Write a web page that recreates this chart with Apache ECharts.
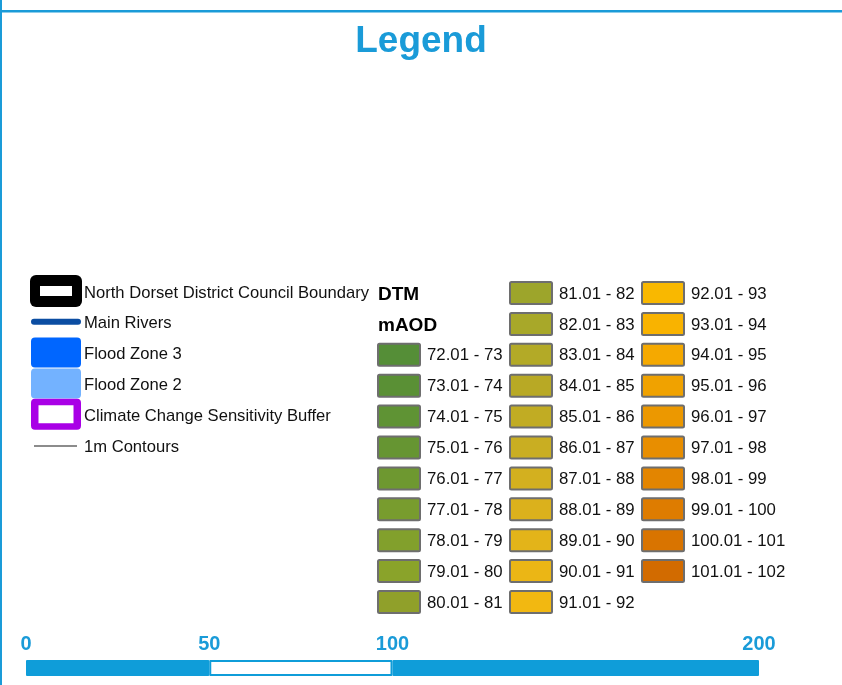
<!DOCTYPE html>
<html><head><meta charset="utf-8">
<script src="https://cdn.jsdelivr.net/npm/echarts@6/dist/echarts.min.js"></script>
<style>html,body{margin:0;padding:0;background:#fff}#c{width:842px;height:685px}</style>
</head><body><div id="c"></div>
<script>
// ---- data ----
const legendLabels = ['North Dorset District Council Boundary','Main Rivers','Flood Zone 3','Flood Zone 2','Climate Change Sensitivity Buffer','1m Contours'];
const legendSymbols = ['boundary','river','zone','zone','buffer','contour'];
const legendColors = ['#000000','#0b4da2','#0066ff','#73b2ff','#a900e6','#8c8c8c'];

const dtmHeaders = ['DTM','mAOD'];
const dtmLabels = ['72.01 - 73','73.01 - 74','74.01 - 75','75.01 - 76','76.01 - 77','77.01 - 78','78.01 - 79','79.01 - 80','80.01 - 81',
  '81.01 - 82','82.01 - 83','83.01 - 84','84.01 - 85','85.01 - 86','86.01 - 87','87.01 - 88','88.01 - 89','89.01 - 90','90.01 - 91','91.01 - 92',
  '92.01 - 93','93.01 - 94','94.01 - 95','95.01 - 96','96.01 - 97','97.01 - 98','98.01 - 99','99.01 - 100','100.01 - 101','101.01 - 102'];
const dtmColors = ['#558e37','#5a9035','#5f9334','#669532','#6e9830','#789c2e','#82a02c','#8aa32a','#90a02a',
  '#9da52b','#a8a829','#b3aa27','#b8a925','#c1ac23','#c9ae22','#d3b01f','#dbb11c','#e3b419','#ebb615','#f2b811',
  '#f9b800','#f9b300','#f5a900','#f0a200','#ec9800','#e88e00','#e38500','#de7c00','#d97400','#d26b00'];
const dtmColumnCounts = [9, 11, 10];
const dtmColumnFirstRow = [2, 0, 0];

const scaleTicks = [0, 50, 100, 200];
const scaleSegments = [[0, 50, 1], [50, 100, 0], [100, 200, 1]];

// ---- build ----
const FONT = '"Liberation Sans", Arial, sans-serif';
const BLUE = '#1a9bd8';
const dtmData = [];
let k = 0;
dtmColumnCounts.forEach((n, c) => { for (let j = 0; j < n; j++) { dtmData.push([c, dtmColumnFirstRow[c] + j, k++]); } });

const chart = echarts.init(document.getElementById('c'), null, {renderer: 'canvas'});
chart.setOption({
  animation: false,
  title: {text: 'Legend', left: 'center', top: 23, padding: 0,
    textStyle: {fontFamily: FONT, fontSize: 37, fontWeight: 'bold', color: BLUE}},
  graphic: [
    {type: 'rect', shape: {x: 0, y: 10, width: 842, height: 2.5}, style: {fill: BLUE}},
    {type: 'rect', shape: {x: 0, y: 0, width: 2, height: 685}, style: {fill: BLUE}}
  ],
  grid: [
    {left: 377, top: 293, width: 264, height: 309},
    {left: 56, top: 292, width: 28, height: 154},
    {left: 26, top: 660, width: 733, height: 16}
  ],
  xAxis: [
    {gridIndex: 0, type: 'value', min: 0, max: 2, show: false},
    {gridIndex: 1, type: 'value', min: 0, max: 1, show: false},
    {gridIndex: 2, type: 'value', min: 0, max: 200, interval: 50, position: 'top',
      axisLine: {show: false}, axisTick: {show: false}, splitLine: {show: false},
      axisLabel: {margin: 6, fontFamily: FONT, fontSize: 20, fontWeight: 'bold', color: BLUE,
        formatter: v => scaleTicks.indexOf(v) >= 0 ? String(v) : ''}}
  ],
  yAxis: [
    {gridIndex: 0, type: 'value', min: 0, max: 10, inverse: true, show: false},
    {gridIndex: 1, type: 'value', min: 0, max: 5, inverse: true, show: false},
    {gridIndex: 2, type: 'value', min: 0, max: 1, show: false}
  ],
  series: [
    {type: 'custom', xAxisIndex: 0, yAxisIndex: 0, silent: true,
      data: dtmHeaders.map((h, i) => [0, i, i]),
      renderItem(params, api) {
        const p = api.coord([api.value(0), api.value(1)]);
        return {type: 'text', style: {x: p[0] + 1, y: p[1] + 1.5, text: dtmHeaders[params.dataIndex],
          font: 'bold 19px ' + FONT, fill: '#000', verticalAlign: 'middle'}};
      }},
    {type: 'custom', xAxisIndex: 0, yAxisIndex: 0, silent: true,
      data: dtmData,
      renderItem(params, api) {
        const p = api.coord([api.value(0), api.value(1)]);
        const i = api.value(2);
        return {type: 'group', children: [
          {type: 'rect', shape: {x: p[0] + 1, y: p[1] - 11, width: 42, height: 22, r: 1.5},
            style: {fill: dtmColors[i], stroke: '#6e6e6e', lineWidth: 2}},
          {type: 'text', style: {x: p[0] + 50, y: p[1] + 1, text: dtmLabels[i],
            font: '16.8px ' + FONT, fill: '#111', verticalAlign: 'middle'}}
        ]};
      }},
    {type: 'custom', xAxisIndex: 1, yAxisIndex: 1, silent: true,
      data: legendLabels.map((l, i) => [0, i]),
      renderItem(params, api) {
        const i = params.dataIndex;
        const p = api.coord([0, api.value(1)]);
        const t = api.coord([1, api.value(1)]);
        const cx = p[0], cy = p[1] - 1;
        const col = legendColors[i];
        const kids = [];
        const sym = legendSymbols[i];
        if (sym === 'boundary') {
          kids.push({type: 'rect', shape: {x: cx - 26, y: cy - 16, width: 52, height: 32, r: 6}, style: {fill: col}});
          kids.push({type: 'rect', shape: {x: cx - 16, y: cy - 5, width: 32, height: 10}, style: {fill: '#fff'}});
        } else if (sym === 'river') {
          kids.push({type: 'line', shape: {x1: cx - 22, y1: cy, x2: cx + 22, y2: cy}, style: {stroke: col, lineWidth: 6, lineCap: 'round'}});
        } else if (sym === 'zone') {
          kids.push({type: 'rect', shape: {x: cx - 25, y: cy - 15, width: 50, height: 30, r: 4}, style: {fill: col}});
        } else if (sym === 'buffer') {
          kids.push({type: 'rect', shape: {x: cx - 25, y: cy - 15.5, width: 50, height: 31, r: 4}, style: {fill: col}});
          kids.push({type: 'rect', shape: {x: cx - 17.5, y: cy - 9, width: 35, height: 18}, style: {fill: '#fff'}});
        } else {
          kids.push({type: 'line', shape: {x1: cx - 22, y1: cy + 1, x2: cx + 21, y2: cy + 1}, style: {stroke: col, lineWidth: 2}});
        }
        kids.push({type: 'text', style: {x: t[0], y: t[1] + 1, text: legendLabels[i],
          font: '16.6px ' + FONT, fill: '#111', verticalAlign: 'middle'}});
        return {type: 'group', children: kids};
      }},
    {type: 'custom', xAxisIndex: 2, yAxisIndex: 2, silent: true,
      data: scaleSegments,
      renderItem(params, api) {
        const a = api.coord([api.value(0), 1]);
        const b = api.coord([api.value(1), 0]);
        const kids = [{type: 'rect', shape: {x: a[0], y: a[1], width: b[0] - a[0], height: b[1] - a[1], r: 1}, style: {fill: '#0f9dd9'}}];
        if (!api.value(2)) {
          kids.push({type: 'rect', shape: {x: a[0] + 2, y: a[1] + 2, width: b[0] - a[0] - 4, height: b[1] - a[1] - 4}, style: {fill: '#fff'}});
        }
        return {type: 'group', children: kids};
      }}
  ]
});
</script></body></html>
